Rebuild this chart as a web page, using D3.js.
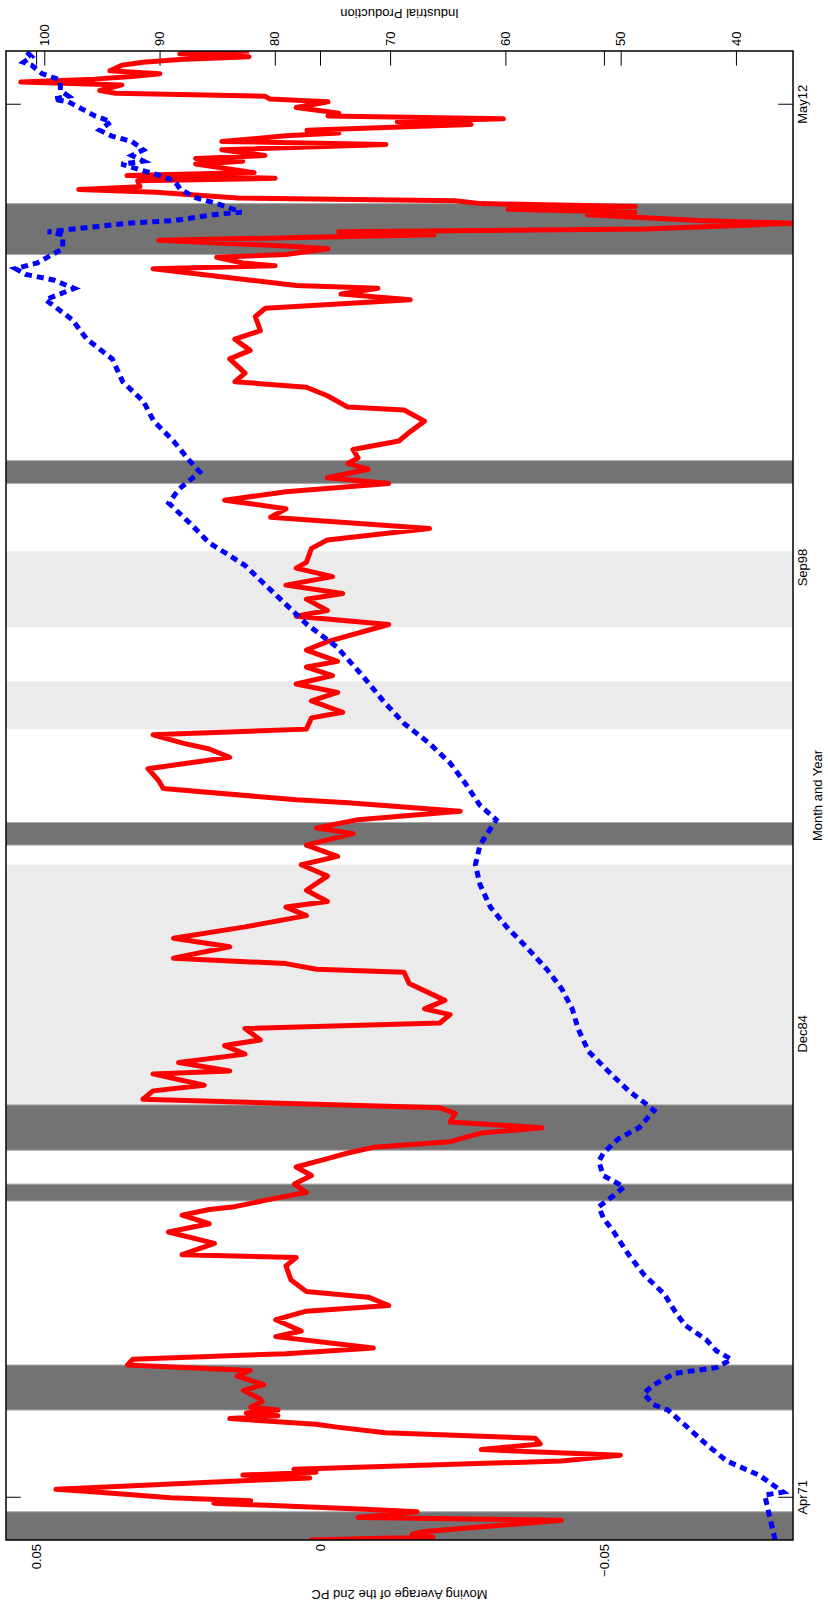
<!DOCTYPE html>
<html>
<head>
<meta charset="utf-8">
<script src="https://cdn.jsdelivr.net/npm/d3@7/dist/d3.min.js"></script>
<style>
  body { margin: 0; background: #fff; }
  svg text { font-family: "Liberation Sans", Arial, Helvetica, sans-serif; fill: #000; }
</style>
</head>
<body>
<svg id="chart" width="828" height="1602"></svg>
<script>
// moving average of the 2nd PC (left axis)
const pcDates = ["1970-01","1970-02","1970-03","1970-04","1970-08","1970-09","1970-11","1970-12","1971-02","1971-03","1971-04","1971-06","1971-07","1971-10","1971-11","1971-12","1972-01","1972-02","1972-05","1972-07","1972-09","1972-11","1973-01","1973-03","1973-05","1973-06","1973-08","1973-09","1973-10","1973-11","1973-12","1974-02","1974-03","1974-06","1974-08","1974-11","1975-01","1975-03","1975-05","1975-07","1975-09","1976-01","1976-03","1976-07","1976-10","1976-12","1977-03","1977-05","1977-09","1978-02","1978-05","1978-06","1978-10","1979-02","1979-05","1979-08","1979-10","1979-11","1980-02","1980-04","1980-07","1980-10","1981-01","1981-04","1981-06","1981-08","1981-10","1982-01","1982-03","1982-05","1982-08","1982-10","1983-01","1983-04","1983-06","1983-10","1983-11","1984-02","1984-05","1984-08","1984-10","1985-02","1985-04","1985-07","1985-09","1985-12","1986-06","1986-10","1986-11","1987-01","1987-03","1987-07","1987-10","1988-02","1988-06","1988-09","1988-11","1989-03","1989-08","1989-12","1990-03","1990-07","1990-11","1991-01","1991-04","1991-07","1991-10","1991-11","1992-03","1992-06","1992-10","1993-02","1993-05","1993-07","1993-10","1993-12","1994-04","1994-06","1994-10","1995-01","1995-04","1995-07","1995-10","1995-12","1996-04","1996-07","1997-01","1997-04","1997-06","1997-10","1997-12","1998-03","1998-06","1998-09","1998-11","1999-04","1999-07","1999-11","2000-03","2000-06","2000-09","2000-12","2001-03","2001-05","2001-08","2001-10","2001-12","2002-03","2002-06","2002-09","2003-01","2003-05","2003-06","2003-10","2004-01","2004-03","2004-06","2004-11","2005-02","2005-06","2005-09","2006-02","2006-05","2006-08","2006-10","2006-12","2007-01","2007-03","2007-07","2007-08","2007-09","2007-11","2007-12","2008-02","2008-03","2008-05","2008-07","2008-08","2008-09","2008-11","2008-12","2009-02","2009-03","2009-04","2009-05","2009-06","2009-07","2009-08","2009-10","2009-11","2009-12","2010-02","2010-03","2010-04","2010-05","2010-08","2010-09","2010-10","2010-11","2011-01","2011-03","2011-04","2011-06","2011-07","2011-08","2011-10","2011-11","2011-12","2012-01","2012-02","2012-04","2012-06","2012-07","2012-08","2012-09","2012-10","2012-12","2013-01","2013-02","2013-03","2013-04","2013-05","2013-07","2013-08","2013-09","2013-10","2013-11","2013-12"];
const pcValues = [0.0019,-0.0199,-0.0162,-0.0180,-0.0425,-0.0067,-0.0171,-0.0070,0.0187,0.0122,0.0263,0.0395,0.0465,0.0136,0.0018,0.0136,0.0007,0.0046,-0.0425,-0.0529,-0.0284,-0.0388,-0.0379,-0.0115,-0.0030,0.0007,0.0159,0.0074,0.0130,0.0074,0.0122,0.0102,0.0105,0.0135,0.0099,0.0146,0.0123,0.0339,0.0330,0.0060,-0.0094,0.0078,0.0033,0.0078,0.0024,-0.0121,-0.0085,0.0024,0.0051,0.0060,0.0042,0.0243,0.0186,0.0267,0.0195,0.0243,0.0195,0.0150,0.0078,0.0024,0.0045,0.0015,0.0042,-0.0013,-0.0049,-0.0094,-0.0229,-0.0283,-0.0391,-0.0229,-0.0238,-0.0211,0.0312,0.0294,0.0204,0.0294,0.0159,0.0249,0.0132,0.0168,0.0105,0.0132,-0.0211,-0.0229,-0.0184,-0.0220,-0.0157,-0.0148,0.0006,0.0060,0.0258,0.0159,0.0258,0.0132,0.0024,0.0060,-0.0013,0.0024,-0.0013,0.0033,-0.0031,0.0024,-0.0058,0.0006,-0.0067,-0.0247,-0.0049,0.0042,0.0276,0.0285,0.0303,0.0159,0.0195,0.0240,0.0294,0.0024,0.0015,-0.0040,0.0015,-0.0031,0.0042,-0.0022,0.0024,-0.0031,0.0024,-0.0013,-0.0121,0.0042,-0.0013,0.0024,-0.0040,0.0060,-0.0022,0.0042,0.0024,0.0015,-0.0013,-0.0193,0.0087,0.0060,0.0168,0.0060,-0.0121,-0.0013,-0.0085,-0.0049,-0.0067,-0.0058,-0.0139,-0.0157,-0.0184,-0.0148,-0.0049,-0.0013,0.0024,0.0150,0.0132,0.0159,0.0123,0.0150,0.0105,0.0114,0.0096,-0.0159,-0.0037,-0.0102,0.0042,0.0125,0.0294,0.0079,0.0136,0.0182,0.0060,-0.0014,0.0060,0.0284,-0.0201,-0.0033,-0.0573,-0.0835,-0.0666,-0.0471,-0.0555,-0.0331,-0.0555,-0.0284,-0.0238,0.0145,0.0289,0.0425,0.0317,0.0321,0.0079,0.0340,0.0116,0.0219,0.0136,0.0219,0.0097,0.0173,-0.0116,0.0173,0.0060,-0.0033,0.0023,-0.0266,-0.0136,-0.0323,-0.0014,-0.0033,0.0042,-0.0014,0.0088,0.0097,0.0360,0.0388,0.0349,0.0527,0.0397,0.0331,0.0282,0.0370,0.0349,0.0312,0.0247,0.0125,0.0247,0.0125];

// industrial production (right axis)
const ipDates = ["1970-01","1970-08","1971-05","1971-06","1971-12","1972-05","1972-11","1973-06","1973-11","1974-01","1974-05","1974-08","1974-12","1975-02","1975-05","1975-08","1975-12","1976-05","1976-10","1977-04","1977-11","1978-06","1979-02","1979-07","1979-11","1980-03","1980-06","1980-10","1981-03","1981-06","1981-11","1982-03","1982-09","1982-12","1983-04","1983-11","1984-06","1985-02","1985-09","1986-04","1986-11","1987-07","1988-02","1988-09","1989-05","1989-12","1990-07","1991-04","1991-09","1992-05","1992-12","1993-07","1994-02","1994-10","1995-07","1996-05","1997-01","1997-08","1998-03","1998-10","1999-06","2000-01","2000-08","2001-01","2001-07","2001-11","2002-06","2003-01","2003-08","2004-03","2004-11","2005-06","2006-01","2006-08","2006-12","2007-03","2007-05","2007-07","2007-09","2008-02","2008-07","2008-08","2008-11","2008-12","2009-02","2009-03","2009-06","2009-08","2009-11","2010-02","2010-04","2010-06","2010-08","2010-09","2010-11","2011-01","2011-04","2011-06","2011-08","2011-11","2012-01","2012-03","2012-06","2012-07","2012-08","2012-10","2013-01","2013-02","2013-04","2013-07","2013-08","2013-10","2013-12"];
const ipValues = [36.6,37.0,37.5,35.9,38.0,40.8,42.6,44.5,45.9,47.2,48.0,47.1,45.3,41.7,40.4,41.7,42.6,44.4,45.3,46.2,48.0,49.3,50.6,51.5,51.9,50.6,49.7,51.5,51.9,51.5,50.2,48.4,47.1,48.0,49.3,51.1,52.8,53.7,54.2,55.1,56.4,58.2,59.9,61.3,62.2,62.6,62.2,60.8,62.2,63.5,64.8,66.6,68.8,70.6,72.4,74.6,77.2,79.0,80.8,82.6,85.7,87.4,89.2,88.3,86.5,87.4,88.8,90.5,91.4,93.2,94.1,96.3,97.6,99.9,97.4,99.2,101.6,102.5,100.6,98.4,98.4,99.7,92.8,88.7,85.4,82.9,85.0,86.8,88.2,88.7,90.0,91.7,93.3,91.4,92.4,91.4,92.4,94.2,95.2,94.2,95.6,96.5,97.9,99.2,97.9,98.6,98.6,98.8,100.2,101.1,101.8,101.1,101.6];

// shaded periods
const recessions = [["1969-12","1970-11"],["1973-11","1975-03"],["1980-01","1980-07"],["1981-07","1982-11"],["1990-07","1991-03"],["2001-03","2001-11"],["2007-12","2009-06"]];
const lightPeriods = [["1982-11","1989-12"],["1993-12","1995-05"],["1996-12","1999-03"]];

// axis ticks
const dateTicks = ["Apr71","Dec84","Sep98","May12"];
const pcTicks = [-0.05, 0, 0.05];
const ipTicks = [40, 50, 60, 70, 80, 90, 100];

const parseMonth = d3.timeParse("%Y-%m");
const parseTick = d3.timeParse("%b%y");

// the figure is drawn landscape and turned a quarter turn
const W = 1602;
const pL = 62, pR = 1551, pT = 6, pB = 793;
const tickLen = 14.7;

const svg = d3.select("#chart");
const g = svg.append("g").attr("transform", `translate(0,${W}) rotate(-90)`);

const x = d3.scaleTime()
  .domain([parseMonth("1970-01"), parseMonth("2013-12")])
  .range([pL, pR]);
const yL = d3.scaleLinear().domain([-0.0833, 0.0553]).range([pB, pT]);
const yR = d3.scaleLinear().domain([35.05, 103.32]).range([pB, pT]);

g.append("defs").append("clipPath").attr("id", "plot")
  .append("rect").attr("x", pL).attr("y", pT)
  .attr("width", pR - pL).attr("height", pB - pT);

function styleAxis(sel) {
  sel.select(".domain").remove();
  sel.selectAll("line").attr("stroke", "#000").attr("stroke-width", 1);
  sel.selectAll("text").style("font-size", "13px");
}

// ticks first, the shading covers them
g.append("g").attr("transform", `translate(${pL},0)`)
  .call(d3.axisLeft(yL).tickValues(pcTicks).tickSize(-tickLen).tickPadding(4)
    .tickFormat(d => d === 0 ? "0" : (d < 0 ? "\u2212" : "") + Math.abs(d).toFixed(2)))
  .call(styleAxis);
g.append("g").attr("transform", `translate(${pR},0)`)
  .call(d3.axisRight(yL).tickValues(pcTicks).tickSize(-tickLen).tickFormat(""))
  .call(styleAxis);
g.append("g").attr("transform", `translate(0,${pB})`)
  .call(d3.axisBottom(x).tickValues(dateTicks.map(parseTick)).tickSize(-tickLen).tickPadding(5)
    .tickFormat(d3.timeFormat("%b%y")))
  .call(styleAxis);
g.append("g").attr("transform", `translate(0,${pT})`)
  .call(d3.axisTop(x).tickValues(dateTicks.map(parseTick)).tickSize(-tickLen).tickFormat(""))
  .call(styleAxis);
g.append("g").attr("transform", `translate(${pR},0)`)
  .call(d3.axisRight(yR).tickValues(ipTicks).tickSize(-tickLen).tickPadding(5))
  .call(styleAxis);

const plot = g.append("g").attr("clip-path", "url(#plot)");

plot.selectAll("rect.light").data(lightPeriods).join("rect")
  .attr("class", "light")
  .attr("x", d => x(parseMonth(d[0])))
  .attr("width", d => x(parseMonth(d[1])) - x(parseMonth(d[0])))
  .attr("y", pT).attr("height", pB - pT)
  .attr("fill", "#ebebeb");

plot.selectAll("rect.rec").data(recessions).join("rect")
  .attr("class", "rec")
  .attr("x", d => x(parseMonth(d[0])))
  .attr("width", d => x(parseMonth(d[1])) - x(parseMonth(d[0])))
  .attr("y", pT).attr("height", pB - pT)
  .attr("fill", "#737373").attr("stroke", "#a8a8a8").attr("stroke-width", 1);

const pcLine = d3.line().x((d, i) => x(parseMonth(pcDates[i]))).y(d => yL(d));
plot.append("path").datum(pcValues)
  .attr("d", pcLine)
  .attr("fill", "none").attr("stroke", "#ff0000")
  .attr("stroke-width", 5).attr("stroke-linejoin", "round");

const ipLine = d3.line().x((d, i) => x(parseMonth(ipDates[i]))).y(d => yR(d));
plot.append("path").datum(ipValues)
  .attr("d", ipLine)
  .attr("fill", "none").attr("stroke", "#0000ff")
  .attr("stroke-width", 5).attr("stroke-dasharray", "7,5");

g.append("rect")
  .attr("x", pL).attr("y", pT)
  .attr("width", pR - pL).attr("height", pB - pT)
  .attr("fill", "none").attr("stroke", "#000").attr("stroke-width", 1.5);

// labels
g.append("text").attr("x", (pL + pR) / 2).attr("y", 822)
  .attr("text-anchor", "middle").style("font-size", "13px").text("Month and Year");
g.append("text").attr("transform", `translate(12,${(pT + pB) / 2}) rotate(-90)`)
  .attr("text-anchor", "middle").style("font-size", "13px").text("Moving Average of the 2nd PC");
g.append("text").attr("transform", `translate(1593,${(pT + pB) / 2}) rotate(-90)`)
  .attr("text-anchor", "middle").style("font-size", "13px").text("Industrial Production");
</script>
</body>
</html>
